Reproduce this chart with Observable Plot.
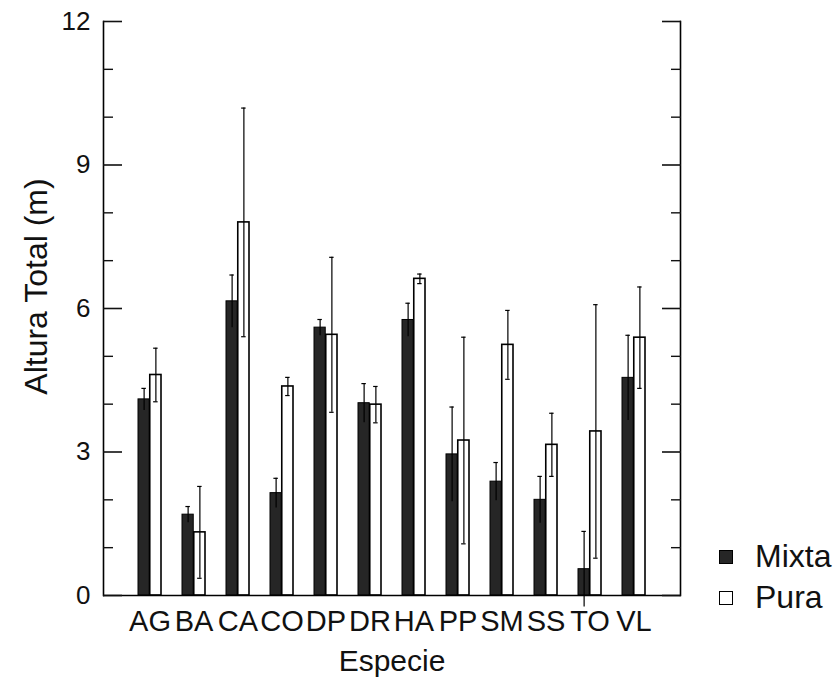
<!DOCTYPE html>
<html><head><meta charset="utf-8">
<script src="https://cdn.jsdelivr.net/npm/d3@7"></script>
<script src="https://cdn.jsdelivr.net/npm/@observablehq/plot@0.6"></script>
<style>
body{margin:0;background:#fff;font-family:"Liberation Sans",Arial,sans-serif}
#wrap{position:relative;width:839px;height:685px}
.legend{position:absolute;left:719px;top:536px;font-size:32px;color:#111}
.legend .row{display:flex;align-items:center;height:41px}
.sw{width:14px;height:14px;border:1.5px solid #000;box-sizing:border-box;margin-right:22px}
</style></head><body><div id="wrap"></div><script>
const species = ["AG","BA","CA","CO","DP","DR","HA","PP","SM","SS","TO","VL"];
const mixta    = [4.10,1.69,6.15,2.14,5.60,4.02,5.76,2.95,2.38,2.00,0.55,4.55];
const mixtaErr = [0.23,0.17,0.55,0.31,0.17,0.41,0.35,0.99,0.40,0.49,0.79,0.89];
const pura     = [4.61,1.32,7.80,4.37,5.45,3.99,6.62,3.24,5.24,3.15,3.43,5.39];
const puraErr  = [0.56,0.96,2.39,0.19,1.62,0.38,0.10,2.16,0.72,0.66,2.65,1.06];
const yTicks = [0,3,6,9,12];
const yMinor = [1,2,4,5,7,8,10,11];
const seriesNames = ["Mixta","Pura"];

const rows = species.map((s,i)=>({s, m:mixta[i], me:mixtaErr[i], p:pura[i], pe:puraErr[i]}));
const W=839,H=685,mL=103,mR=159,mT=21,mB=90;
const pi=0.47, po=0.735;
const step=(W-mL-mR)/(species.length-pi+2*po);
const bw=step*(1-pi), half=bw/2, q=bw/4, cap=2.5;
const font='"Liberation Sans", Arial, sans-serif';

const capM = {insetLeft:q-cap, insetRight:bw-q-cap, stroke:"#000", strokeWidth:1.2};
const capP = {insetLeft:3*q-cap, insetRight:q-cap, stroke:"#000", strokeWidth:1.2};

const plot = Plot.plot({
  width:W, height:H, marginLeft:mL, marginRight:mR, marginTop:mT, marginBottom:mB,
  style:{fontFamily:font, background:"white", color:"#111", overflow:"visible"},
  x:{domain:species, paddingInner:pi, paddingOuter:po, label:null},
  y:{domain:[0,12], label:null},
  marks:[
    Plot.barY(rows,{x:"s", y:"m", insetRight:half, fill:"#262626", stroke:"#000", strokeWidth:1}),
    Plot.barY(rows,{x:"s", y:"p", insetLeft:half, fill:"#fff", stroke:"#000", strokeWidth:1.6}),
    Plot.ruleX(rows,{x:"s", y1:d=>d.m-d.me, y2:d=>d.m+d.me, dx:-q, stroke:"#000", strokeWidth:1.2}),
    Plot.ruleX(rows,{x:"s", y1:d=>d.p-d.pe, y2:d=>d.p+d.pe, dx:q, stroke:"#000", strokeWidth:1.2}),
    Plot.tickY(rows,{x:"s", y:d=>d.m+d.me, ...capM}),
    Plot.tickY(rows,{x:"s", y:d=>d.p+d.pe, ...capP}),
    Plot.tickY(rows,{x:"s", y:d=>d.p-d.pe, ...capP}),
    Plot.frame({anchor:"left", stroke:"#000", strokeWidth:1.6}),
    Plot.frame({anchor:"right", stroke:"#000", strokeWidth:1.6}),
    Plot.ruleY([0],{stroke:"#000", strokeWidth:1.6}),
    Plot.axisY(yTicks,{anchor:"left", tickSize:0, tickPadding:13, fontSize:26, label:null}),
    Plot.axisY(yTicks,{anchor:"left", tickSize:-19, fill:"none", label:null, strokeWidth:1.6}),
    Plot.axisY(yMinor,{anchor:"left", tickSize:-10, fill:"none", label:null, strokeWidth:1.4}),
    Plot.axisY(yTicks,{anchor:"right", tickSize:-19, fill:"none", label:null, strokeWidth:1.6}),
    Plot.axisY(yMinor,{anchor:"right", tickSize:-10, fill:"none", label:null, strokeWidth:1.4}),
    Plot.axisX({tickSize:0, tickPadding:15, fontSize:29, label:null}),
    Plot.text(["Altura Total (m)"],{frameAnchor:"left", rotate:-90, dx:-67, dy:-22, fontSize:32, lineAnchor:"middle", textAnchor:"middle", fill:"#111"}),
    Plot.text(["Especie"],{frameAnchor:"bottom", dy:66, fontSize:30, lineAnchor:"middle", textAnchor:"middle", fill:"#111"})
  ]
});
const wrap=document.getElementById("wrap");
wrap.appendChild(plot);
const leg=document.createElement("div");
leg.className="legend";
const fills=["#262626","#fff"];
seriesNames.forEach((n,i)=>{
  const r=document.createElement("div"); r.className="row";
  const sw=document.createElement("span"); sw.className="sw"; sw.style.background=fills[i];
  const t=document.createElement("span"); t.textContent=n;
  r.appendChild(sw); r.appendChild(t); leg.appendChild(r);
});
wrap.appendChild(leg);
</script></body></html>
